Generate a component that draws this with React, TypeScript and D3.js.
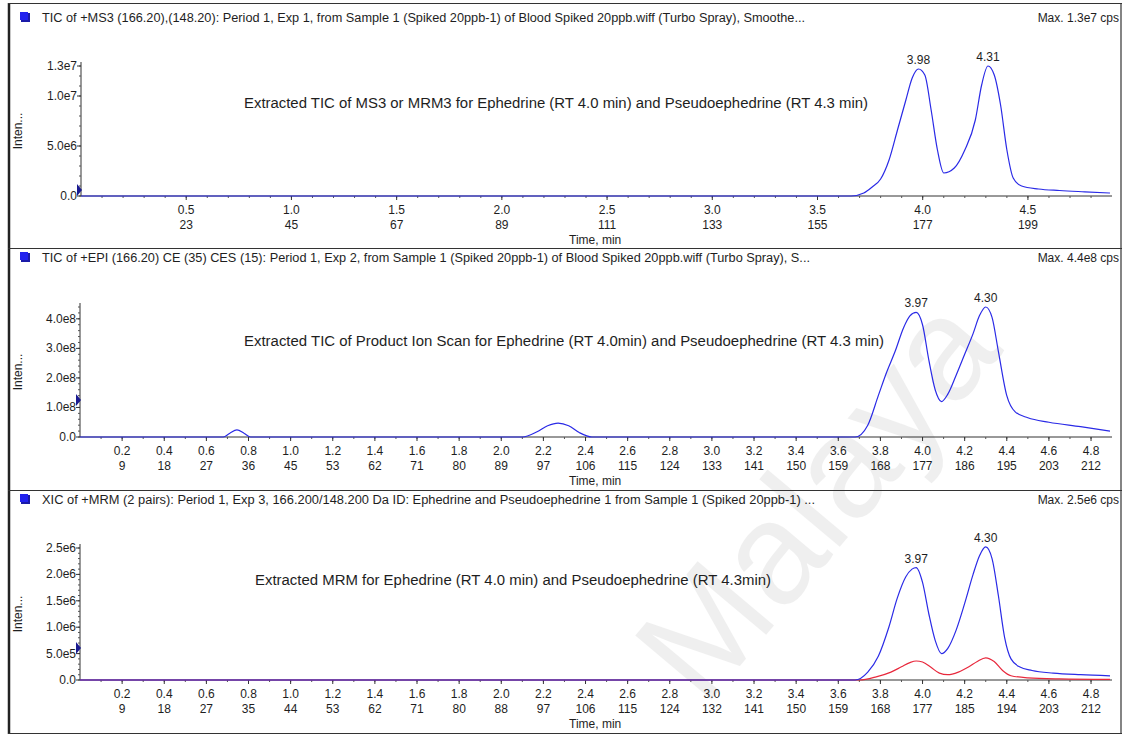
import React from "react";
import * as d3 from "d3";

// ---- Panel 1: TIC of +MS3 (intensity in 1e6 cps) ----
const ms3Time = [0, 3.66, 3.72, 3.76, 3.8, 3.84, 3.88, 3.92, 3.95, 3.98, 4.01, 4.04, 4.07, 4.1, 4.15, 4.2, 4.25, 4.28, 4.31, 4.34, 4.37, 4.4, 4.43, 4.47, 4.55, 4.65, 4.77, 4.89];
const ms3Inten = [0, 0, 0.3, 0.9, 1.7, 3.6, 6.6, 9.6, 11.8, 12.7, 12.1, 8.6, 4.6, 2.3, 2.8, 4.6, 7.6, 11.1, 13.0, 12.1, 9.1, 4.6, 1.8, 1.0, 0.7, 0.55, 0.42, 0.3];
const ms3Peaks = [3.98, 4.31];

// ---- Panel 2: TIC of +EPI (intensity in 1e8 cps) ----
const epiTime = [0, 0.68, 0.71, 0.745, 0.78, 0.81, 2.1, 2.17, 2.22, 2.27, 2.32, 2.37, 2.43, 3.68, 3.74, 3.79, 3.83, 3.87, 3.91, 3.94, 3.97, 4.0, 4.03, 4.06, 4.09, 4.12, 4.16, 4.2, 4.24, 4.27, 4.3, 4.33, 4.36, 4.4, 4.44, 4.5, 4.6, 4.75, 4.89];
const epiInten = [0, 0, 0.12, 0.24, 0.12, 0, 0, 0.18, 0.38, 0.47, 0.38, 0.15, 0, 0, 0.4, 1.4, 2.2, 2.9, 3.7, 4.1, 4.22, 3.8, 2.6, 1.6, 1.2, 1.45, 2.1, 2.8, 3.5, 4.1, 4.4, 4.05, 2.9, 1.4, 0.85, 0.65, 0.5, 0.35, 0.2];
const epiPeaks = [3.97, 4.3];

// ---- Panel 3: XIC of +MRM, two transitions (intensity in 1e6 cps) ----
const mrmTime = [0, 3.68, 3.74, 3.79, 3.84, 3.88, 3.92, 3.95, 3.97, 4.0, 4.03, 4.06, 4.09, 4.12, 4.16, 4.2, 4.24, 4.27, 4.3, 4.33, 4.36, 4.39, 4.42, 4.46, 4.52, 4.62, 4.75, 4.89];
const mrmInten = [0, 0, 0.15, 0.45, 1.0, 1.55, 1.95, 2.1, 2.13, 1.85, 1.25, 0.75, 0.5, 0.6, 0.95, 1.45, 2.0, 2.35, 2.52, 2.3, 1.6, 0.8, 0.4, 0.25, 0.18, 0.13, 0.1, 0.08];
const mrm2Time = [0, 3.7, 3.78, 3.85, 3.9, 3.94, 3.97, 4.0, 4.04, 4.08, 4.12, 4.17, 4.22, 4.26, 4.3, 4.34, 4.38, 4.42, 4.5, 4.65, 4.89];
const mrm2Inten = [0, 0, 0.06, 0.15, 0.25, 0.33, 0.36, 0.34, 0.24, 0.13, 0.1, 0.15, 0.25, 0.35, 0.42, 0.35, 0.18, 0.08, 0.04, 0.02, 0.01];
const mrmPeaks = [3.97, 4.3];

// ---- Axis ticks ----
const ticksHalf = [0.5, 1.0, 1.5, 2.0, 2.5, 3.0, 3.5, 4.0, 4.5];
const scansHalf = ["23", "45", "67", "89", "111", "133", "155", "177", "199"];
const ticksFifth = [0.2, 0.4, 0.6, 0.8, 1.0, 1.2, 1.4, 1.6, 1.8, 2.0, 2.2, 2.4, 2.6, 2.8, 3.0, 3.2, 3.4, 3.6, 3.8, 4.0, 4.2, 4.4, 4.6, 4.8];
const scansEpi = ["9", "18", "27", "36", "45", "53", "62", "71", "80", "89", "97", "106", "115", "124", "133", "141", "150", "159", "168", "177", "186", "195", "203", "212"];
const scansMrm = ["9", "18", "27", "35", "44", "53", "62", "71", "80", "88", "97", "106", "115", "124", "132", "141", "150", "159", "168", "177", "185", "194", "203", "212"];

const yTicks1 = [0, 5, 10, 13];
const yLabels1 = ["0.0", "5.0e6", "1.0e7", "1.3e7"];
const yTicks2 = [0, 1, 2, 3, 4];
const yLabels2 = ["0.0", "1.0e8", "2.0e8", "3.0e8", "4.0e8"];
const yTicks3 = [0, 0.5, 1, 1.5, 2, 2.5];
const yLabels3 = ["0.0", "5.0e5", "1.0e6", "1.5e6", "2.0e6", "2.5e6"];

const headers = [
  "TIC of +MS3 (166.20),(148.20): Period 1, Exp 1, from Sample 1 (Spiked 20ppb-1) of Blood Spiked 20ppb.wiff (Turbo Spray), Smoothe...",
  "TIC of +EPI (166.20) CE (35) CES (15): Period 1, Exp 2, from Sample 1 (Spiked 20ppb-1) of Blood Spiked 20ppb.wiff (Turbo Spray), S...",
  "XIC of +MRM (2 pairs): Period 1, Exp 3, 166.200/148.200 Da ID: Ephedrine and Pseudoephedrine 1 from Sample 1 (Spiked 20ppb-1) ...",
];
const maxLabels = ["Max. 1.3e7 cps", "Max. 4.4e8 cps", "Max. 2.5e6 cps"];
const notes = [
  "Extracted TIC of MS3 or MRM3 for Ephedrine (RT 4.0 min) and Pseudoephedrine (RT 4.3 min)",
  "Extracted TIC of Product Ion Scan for Ephedrine (RT 4.0min) and Pseudoephedrine (RT 4.3 min)",
  "Extracted MRM for Ephedrine (RT 4.0 min) and Pseudoephedrine (RT 4.3min)",
];

const FONT = "'Liberation Sans', Arial, sans-serif";
const BLUE = "#2a2ae6";
const RED = "#e8283c";
const INK = "#1e1e1e";

type Series = { t: number[]; v: number[]; color: string };

type PanelProps = {
  top: number;
  header: string;
  headerLen: number;
  maxLabel: string;
  note: string;
  noteX: number;
  noteY: number;
  noteLen: number;
  xLeft: number;
  yBase: number;
  yTopVal: number;
  yTopPx: number;
  yTicks: number[];
  yLabels: string[];
  yMinorStep: number;
  xTicks: number[];
  scanLabels: string[];
  series: Series[];
  peaks: number[];
  peakSeries: number;
  markerY: number;
};

function peakValue(s: Series, t: number) {
  const i = s.t.findIndex((x) => Math.abs(x - t) < 1e-6);
  return i >= 0 ? s.v[i] : 0;
}

function Panel(p: PanelProps) {
  const x = d3.scaleLinear().domain([0, 4.89]).range([p.xLeft, 1110]);
  const y = d3.scaleLinear().domain([0, p.yTopVal]).range([p.yBase, p.yTopPx]);
  const minorX = d3.range(0.1, 4.89, 0.1);
  const minorY = d3.range(0, p.yTopVal + 1e-9, p.yMinorStep);
  const ps = p.series[p.peakSeries];
  return (
    <g>
      {/* header row */}
      <rect x={21} y={p.top + 7} width={9} height={9} fill="#1a1aa8" />
      <rect x={20} y={p.top + 6} width={8} height={8} fill="#2222ee" />
      <text x={42} y={p.top + 16} fontSize={12} fill={INK} textLength={p.headerLen} lengthAdjust="spacingAndGlyphs">
        {p.header}
      </text>
      <text x={1119} y={p.top + 16} fontSize={12} fill={INK} textAnchor="end">
        {p.maxLabel}
      </text>

      {/* annotation */}
      <text x={p.noteX} y={p.noteY} fontSize={14} fill={INK} textLength={p.noteLen} lengthAdjust="spacingAndGlyphs">
        {p.note}
      </text>

      {/* y axis */}
      <line x1={p.xLeft} x2={p.xLeft} y1={p.yBase} y2={p.yTopPx - 4} stroke="#333" strokeWidth={1} />
      {minorY.map((v, i) => (
        <line key={"my" + i} x1={p.xLeft - 2} x2={p.xLeft} y1={y(v)} y2={y(v)} stroke="#555" />
      ))}
      {p.yTicks.map((v, i) => (
        <g key={"yt" + i}>
          <line x1={p.xLeft - 4} x2={p.xLeft} y1={y(v)} y2={y(v)} stroke="#333" />
          <text x={p.xLeft - 4} y={y(v) + 4} fontSize={12} fill={INK} textAnchor="end">
            {p.yLabels[i]}
          </text>
        </g>
      ))}
      <text
        transform={`translate(22, ${(p.yBase + p.yTopPx) / 2}) rotate(-90)`}
        fontSize={12}
        fill={INK}
        textAnchor="middle"
      >
        Inten...
      </text>
      <path
        d={`M${p.xLeft - 4},${p.markerY - 6} L${p.xLeft + 1},${p.markerY} L${p.xLeft - 4},${p.markerY + 6} Z`}
        fill="#1a1a90"
      />

      {/* x axis */}
      <line x1={p.xLeft} x2={1112} y1={p.yBase} y2={p.yBase} stroke="#333" />
      {minorX.map((t, i) => (
        <line key={"mx" + i} x1={x(t)} x2={x(t)} y1={p.yBase} y2={p.yBase + 2} stroke="#555" />
      ))}
      {p.xTicks.map((t, i) => (
        <g key={"xt" + i}>
          <line x1={x(t)} x2={x(t)} y1={p.yBase} y2={p.yBase + 4} stroke="#333" />
          <text x={x(t)} y={p.yBase + 18} fontSize={12} fill={INK} textAnchor="middle">
            {t.toFixed(1)}
          </text>
          <text x={x(t)} y={p.yBase + 33} fontSize={12} fill={INK} textAnchor="middle">
            {p.scanLabels[i]}
          </text>
        </g>
      ))}
      <text x={569} y={p.yBase + 48} fontSize={12} fill={INK}>
        Time, min
      </text>

      {/* traces */}
      {p.series.map((s, k) => {
        const gen = d3
          .line<number>()
          .x((_, i) => x(s.t[i]))
          .y((v) => y(v))
          .curve(d3.curveMonotoneX);
        return <path key={"s" + k} d={gen(s.v) || ""} fill="none" stroke={s.color} strokeWidth={1.2} />;
      })}

      {/* peak retention times */}
      {p.peaks.map((t, i) => (
        <text key={"pk" + i} x={x(t)} y={y(peakValue(ps, t)) - 5} fontSize={12} fill={INK} textAnchor="middle">
          {t.toFixed(2)}
        </text>
      ))}
    </g>
  );
}

export default function App() {
  return (
    <svg
      width={1127}
      height={736}
      style={{ position: "absolute", left: 0, top: 0, background: "#fff" }}
      fontFamily={FONT}
    >
      <rect x={0} y={0} width={1127} height={736} fill="#fff" />

      {/* watermark */}
      <text
        transform="translate(825, 505) rotate(-50)"
        fontSize={145}
        fill="#000"
        opacity={0.06}
        textAnchor="middle"
        dominantBaseline="middle"
        fontFamily={FONT}
      >
        Malaya
      </text>

      <Panel
        top={6}
        header={headers[0]}
        headerLen={763}
        maxLabel={maxLabels[0]}
        note={notes[0]}
        noteX={244}
        noteY={108}
        noteLen={624}
        xLeft={81}
        yBase={196}
        yTopVal={13}
        yTopPx={66}
        yTicks={yTicks1}
        yLabels={yLabels1}
        yMinorStep={1}
        xTicks={ticksHalf}
        scanLabels={scansHalf}
        series={[{ t: ms3Time, v: ms3Inten, color: BLUE }]}
        peaks={ms3Peaks}
        peakSeries={0}
        markerY={190}
      />
      <Panel
        top={246}
        header={headers[1]}
        headerLen={768}
        maxLabel={maxLabels[1]}
        note={notes[1]}
        noteX={244}
        noteY={346}
        noteLen={640}
        xLeft={80}
        yBase={437}
        yTopVal={4.4}
        yTopPx={307}
        yTicks={yTicks2}
        yLabels={yLabels2}
        yMinorStep={0.2}
        xTicks={ticksFifth}
        scanLabels={scansEpi}
        series={[{ t: epiTime, v: epiInten, color: BLUE }]}
        peaks={epiPeaks}
        peakSeries={0}
        markerY={400}
      />
      <Panel
        top={488}
        header={headers[2]}
        headerLen={773}
        maxLabel={maxLabels[2]}
        note={notes[2]}
        noteX={255}
        noteY={585}
        noteLen={516}
        xLeft={80}
        yBase={680}
        yTopVal={2.5}
        yTopPx={548}
        yTicks={yTicks3}
        yLabels={yLabels3}
        yMinorStep={0.1}
        xTicks={ticksFifth}
        scanLabels={scansMrm}
        series={[
          { t: mrm2Time, v: mrm2Inten, color: RED },
          { t: mrmTime, v: mrmInten, color: BLUE },
        ]}
        peaks={mrmPeaks}
        peakSeries={1}
        markerY={648}
      />

      {/* frame */}
      <line x1={9} x2={9} y1={3} y2={734} stroke="#222" strokeWidth={2.5} />
      <line x1={1121} x2={1121} y1={3} y2={734} stroke="#333" strokeWidth={1.2} />
      <line x1={8} x2={1122} y1={3.5} y2={3.5} stroke="#333" strokeWidth={1.2} />
      <line x1={8} x2={1122} y1={248.5} y2={248.5} stroke="#333" strokeWidth={1.2} />
      <line x1={8} x2={1122} y1={490.5} y2={490.5} stroke="#333" strokeWidth={1.2} />
      <line x1={8} x2={1122} y1={733.5} y2={733.5} stroke="#333" strokeWidth={1.2} />
    </svg>
  );
}
